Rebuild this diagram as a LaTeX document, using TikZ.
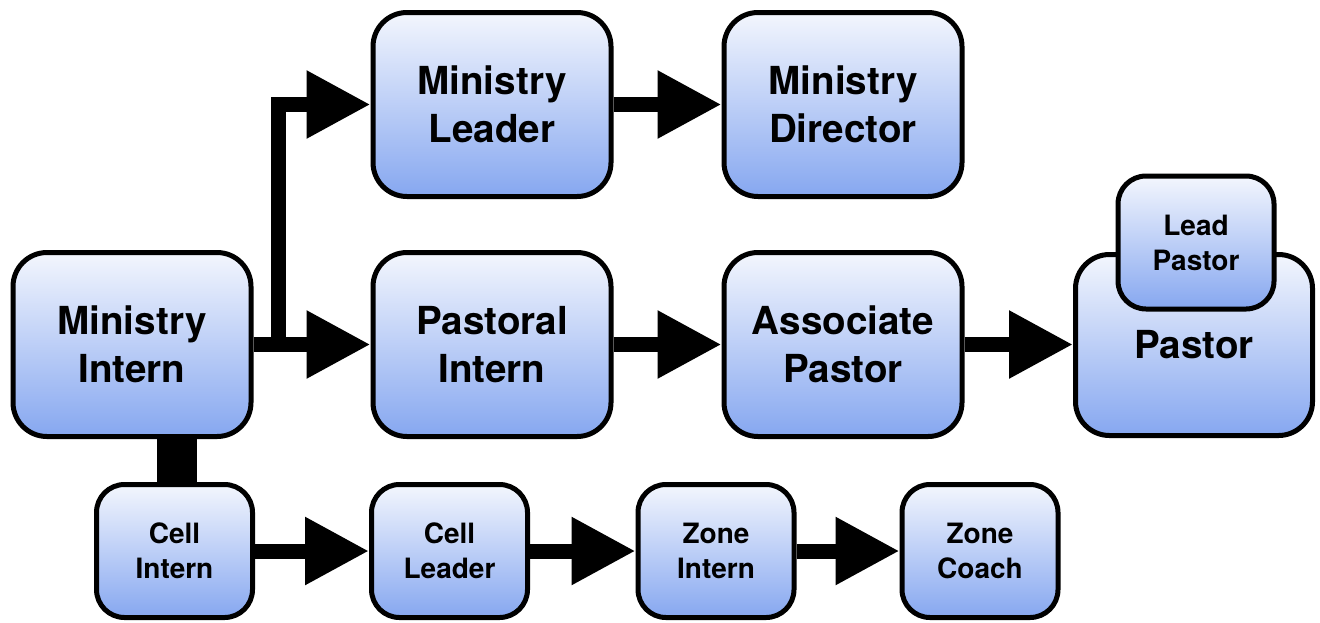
\documentclass[tikz,border=0pt]{standalone}
\usepackage{fontspec}
\setmainfont{TeX Gyre Heros}
\usetikzlibrary{arrows.meta}
\definecolor{boxtop}{RGB}{243,246,253}
\definecolor{boxbottom}{RGB}{134,167,240}
\tikzset{
  box/.style={draw, line width=2.5pt, rounded corners=17pt,
    top color=boxtop, bottom color=boxbottom, align=center, inner sep=0pt,
    minimum width=119pt, minimum height=92pt,
    font=\bfseries\fontsize{19.3}{24}\selectfont},
  smallbox/.style={box, rounded corners=14pt,
    minimum width=78pt, minimum height=66.5pt,
    font=\bfseries\fontsize{14}{17.5}\selectfont},
  arrow/.style={line width=7.5pt, -{Triangle[length=32pt,width=32pt]}},
  bar/.style={line width=20pt}
}
\newcommand{\drawarrows}[1] {
    \foreach \a/\b in {#1} {
      \draw[arrow] (\a.east) -- (\a.east -| \b.west);
    }
}

\begin{document}
\begin{tikzpicture}[x=0.5pt, y=-0.5pt]
    \useasboundingbox (0,0) rectangle (1320,622);
    % ministry and pastoral track
    \node[box] (mi) at (132,344.5) {Ministry\\Intern};
    \node[box] (ml) at (492,104.5) {Ministry\\Leader};
    \node[box] (md) at (843,104.5) {Ministry\\Director};
    \node[box] (pi) at (492,344.5) {Pastoral\\Intern};
    \node[box] (ap) at (843,344.5) {Associate\\Pastor};
    \node[box, minimum width=118.5pt, minimum height=90.5pt] (pa) at (1194,345) {Pastor};
    \node[smallbox] (lp) at (1196,242.5) {Lead\\Pastor};
    % cell track
    \node[smallbox] (ci) at (174.5,551) {Cell\\Intern};
    \node[smallbox] (cl) at (449.5,551) {Cell\\Leader};
    \node[smallbox] (zi) at (716,551) {Zone\\Intern};
    \node[smallbox] (zc) at (980,551) {Zone\\Coach};

    \coordinate (split) at ([xshift=12.5pt]mi.east);
    \draw[arrow] (split) |- (ml.west);
    \drawarrows{mi/pi, ml/md, pi/ap, ap/pa, ci/cl, cl/zi, zi/zc}
    \draw[bar] ([xshift=1.25pt]mi.south -| ci.north) -- ([xshift=1.25pt]ci.north);
\end{tikzpicture}
\end{document}
